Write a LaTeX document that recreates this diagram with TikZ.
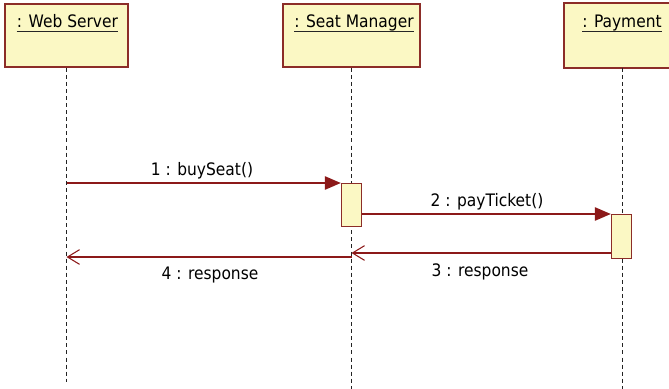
\documentclass[tikz,border=0pt]{standalone}
\usepackage{fontspec}
\setmainfont{DejaVu Sans Condensed}
\usetikzlibrary{arrows.meta,calc}
\definecolor{boxfill}{RGB}{251,248,196}
\definecolor{boxline}{RGB}{140,45,40}
\definecolor{msgline}{RGB}{140,25,25}
\definecolor{lifegray}{RGB}{35,35,35}

\begin{document}
\begin{tikzpicture}[x=0.75pt,y=-0.75pt,
  head/.style={draw=boxline, fill=boxfill, line width=1.2pt, rectangle, inner sep=0pt, minimum height=47.25pt},
  headlabel/.style={font=\fontsize{12.9}{15}\selectfont, inner sep=0pt, anchor=base},
  uline/.style={line width=0.9pt, black!85},
  life/.style={lifegray, line width=1.1pt, dash pattern=on 3pt off 2.3pt},
  act/.style={draw=boxline, fill=boxfill, line width=1pt, rectangle, inner sep=0pt, minimum width=15pt, anchor=north},
  call/.style={msgline, line width=1.2pt, -{Triangle[length=12pt,width=10pt]}},
  reply/.style={msgline, line width=1.1pt, -{Straight Barb[length=9pt,width=11pt,line width=0.8pt]}},
  msglabel/.style={font=\fontsize{12.9}{15}\selectfont, inner sep=0pt, anchor=base}]

\useasboundingbox (0,0) rectangle (669,389);

% lifeline heads; the Payment head runs on past the right edge, so its
% right side is left open
\node[head, minimum width=92.25pt]  (ws) at (66.5,35.5) {};
\node[head, minimum width=102.75pt] (sm) at (351.5,35.5) {};
\node[head, draw=none, minimum width=78pt] (pm) at (617,35.5) {};
\draw[boxline, line width=1.2pt] (pm.north east) -- (pm.north west) -- (pm.south west) -- (pm.south east);

\node[headlabel] (wsl) at (67.5,27) {: Web Server};
\node[headlabel] (sml) at (354,27) {: Seat Manager};
\node[headlabel] (pml) at (622,27) {: Payment};
\draw[uline] ($(wsl.base west)+(0,4.5)$) -- ($(wsl.base east)+(0,4.5)$);
\draw[uline] ($(sml.base west)+(0,4.5)$) -- ($(sml.base east)+(0,4.5)$);
\draw[uline] ($(pml.base west)+(0,4.5)$) -- ($(pml.base east)+(0,4.5)$);

% lifelines
\coordinate (wsbot) at (0,382);
\coordinate (bot) at (0,389);
\coordinate (pmx) at (622.4,0);
\draw[life] (ws.south) -- (ws.south |- wsbot);
\draw[life] (sm.south) -- (sm.south |- bot);
\draw[life] (pmx |- pm.south) -- (pmx |- bot);

% activations
\node[act, minimum height=32.25pt] (a1) at (351.5,183) {};
\node[act, minimum height=33pt]    (a2) at (621.5,214) {};

% messages
\draw[call] (ws.south |- a1.north) -- (a1.north west);
\node[msglabel] (m1) at (202,175) {1 : buySeat()};

\draw[call] (a1.east |- a2.north) -- (a2.north west);
\node[msglabel] (m2) at (487,206) {2 : payTicket()};

\coordinate (r3) at (0,253);
\draw[reply] (a2.west |- r3) -- (sm.south |- r3);
\node[msglabel] (m3) at (480,276) {3 : response};

\coordinate (r4) at (0,257);
\draw[reply] (sm.south |- r4) -- (ws.south |- r4);
\node[msglabel] (m4) at (210,279) {4 : response};
\end{tikzpicture}
\end{document}
